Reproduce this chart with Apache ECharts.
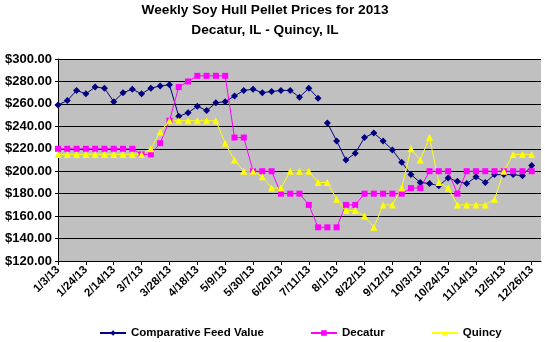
<!DOCTYPE html>
<html>
<head>
<meta charset="utf-8">
<script src="https://cdn.jsdelivr.net/npm/echarts@6/dist/echarts.min.js"></script>
<style>html,body{margin:0;padding:0;background:#fff}#c{width:545px;height:342px}</style>
</head>
<body>
<div id="c"></div>
<script>
const weekDates = ['1/3/13','1/10/13','1/17/13','1/24/13','1/31/13','2/7/13','2/14/13','2/21/13','2/28/13','3/7/13','3/14/13','3/21/13','3/28/13','4/4/13','4/11/13','4/18/13','4/25/13','5/2/13','5/9/13','5/16/13','5/23/13','5/30/13','6/6/13','6/13/13','6/20/13','6/27/13','7/4/13','7/11/13','7/18/13','7/25/13','8/1/13','8/8/13','8/15/13','8/22/13','8/29/13','9/5/13','9/12/13','9/19/13','9/26/13','10/3/13','10/10/13','10/17/13','10/24/13','10/31/13','11/7/13','11/14/13','11/21/13','11/28/13','12/5/13','12/12/13','12/19/13','12/26/13'];
const tickIndices = [0,3,6,9,12,15,18,21,24,27,30,33,36,39,42,45,48,51];
const feedValue = [259,263,272,269,275,274,262,270,273,269,274,276,277,249,252,258,254,261,262,267,272,273,270,271,272,272,266,274,265,243,227,210,216,230,234,227,219,208,197,190,189,187,194,191,189,195,190,197,197,197,196,205];
const decatur = [220,220,220,220,220,220,220,220,220,215,215,225,245,275,280,285,285,285,285,230,230,200,200,200,180,180,180,170,150,150,150,170,170,180,180,180,180,180,185,185,200,200,200,180,200,200,200,200,200,200,200,200];
const quincy = [215,215,215,215,215,215,215,215,215,215,220,235,245,245,245,245,245,245,225,210,200,200,195,185,185,200,200,200,190,190,175,165,165,160,150,170,170,185,220,210,230,190,185,170,170,170,170,175,200,215,215,215];
const feedBreaksAfter = [28];
const decaturBreaksAfter = [29];
const quincyBreaksAfter = [];

function toPoints(values, breaksAfter) {
  const pts = [];
  values.forEach((v, i) => {
    pts.push([i, v]);
    if (breaksAfter.indexOf(i) >= 0) pts.push([i + 0.5, '-']);
  });
  return pts;
}

const FONT = "'Liberation Sans', Arial, sans-serif";
const chart = echarts.init(document.getElementById('c'), null, {renderer: 'canvas'});
chart.setOption({
  animation: false,
  backgroundColor: '#ffffff',
  title: {
    text: 'Weekly Soy Hull Pellet Prices for 2013\nDecatur, IL - Quincy, IL',
    left: 265, top: 0, textAlign: 'center',
    padding: 0,
    textStyle: {fontFamily: FONT, fontWeight: 'bold', fontSize: 13.7, color: '#000', lineHeight: 20}
  },
  legend: {
    left: 99, top: 327, padding: 0,
    itemWidth: 26, itemHeight: 7, itemGap: 46,
    textStyle: {fontFamily: FONT, fontWeight: 'bold', fontSize: 11.5, color: '#000'},
    data: ['Comparative Feed Value', 'Decatur', 'Quincy']
  },
  grid: {left: 58, right: 4, top: 59, bottom: 81, show: true, backgroundColor: '#c0c0c0', borderWidth: 0},
  xAxis: {
    type: 'value', min: 0, max: 52, interval: 3,
    axisLine: {show: true, lineStyle: {color: '#000', width: 1}},
    axisTick: {show: true, length: 4, lineStyle: {color: '#000'}, customValues: tickIndices},
    splitLine: {show: false},
    axisLabel: {
      customValues: tickIndices,
      rotate: 45, margin: 7,
      fontFamily: FONT, fontWeight: 'bold', fontSize: 11.5, color: '#000',
      formatter: v => weekDates[v] || ''
    }
  },
  yAxis: {
    type: 'value', min: 120, max: 300, interval: 20,
    axisLine: {show: true, lineStyle: {color: '#000', width: 1}},
    axisTick: {show: true, length: 3, lineStyle: {color: '#000'}},
    splitLine: {show: true, lineStyle: {color: '#000', width: 1}},
    axisLabel: {
      margin: 6, fontFamily: FONT, fontWeight: 'bold', fontSize: 13, color: '#000',
      formatter: v => '$' + v.toFixed(2)
    }
  },
  series: [
    {name: 'Comparative Feed Value', type: 'line', data: toPoints(feedValue, feedBreaksAfter),
     symbol: 'diamond', symbolSize: 7, connectNulls: false,
     lineStyle: {color: '#000080', width: 1}, itemStyle: {color: '#000080'}},
    {name: 'Decatur', type: 'line', data: toPoints(decatur, decaturBreaksAfter),
     symbol: 'rect', symbolSize: 6, connectNulls: false,
     lineStyle: {color: '#ff00ff', width: 1}, itemStyle: {color: '#ff00ff'}},
    {name: 'Quincy', type: 'line', data: toPoints(quincy, quincyBreaksAfter),
     symbol: 'triangle', symbolSize: 7, connectNulls: false,
     lineStyle: {color: '#ffff00', width: 1}, itemStyle: {color: '#ffff00'}}
  ]
});
</script>
</body>
</html>
